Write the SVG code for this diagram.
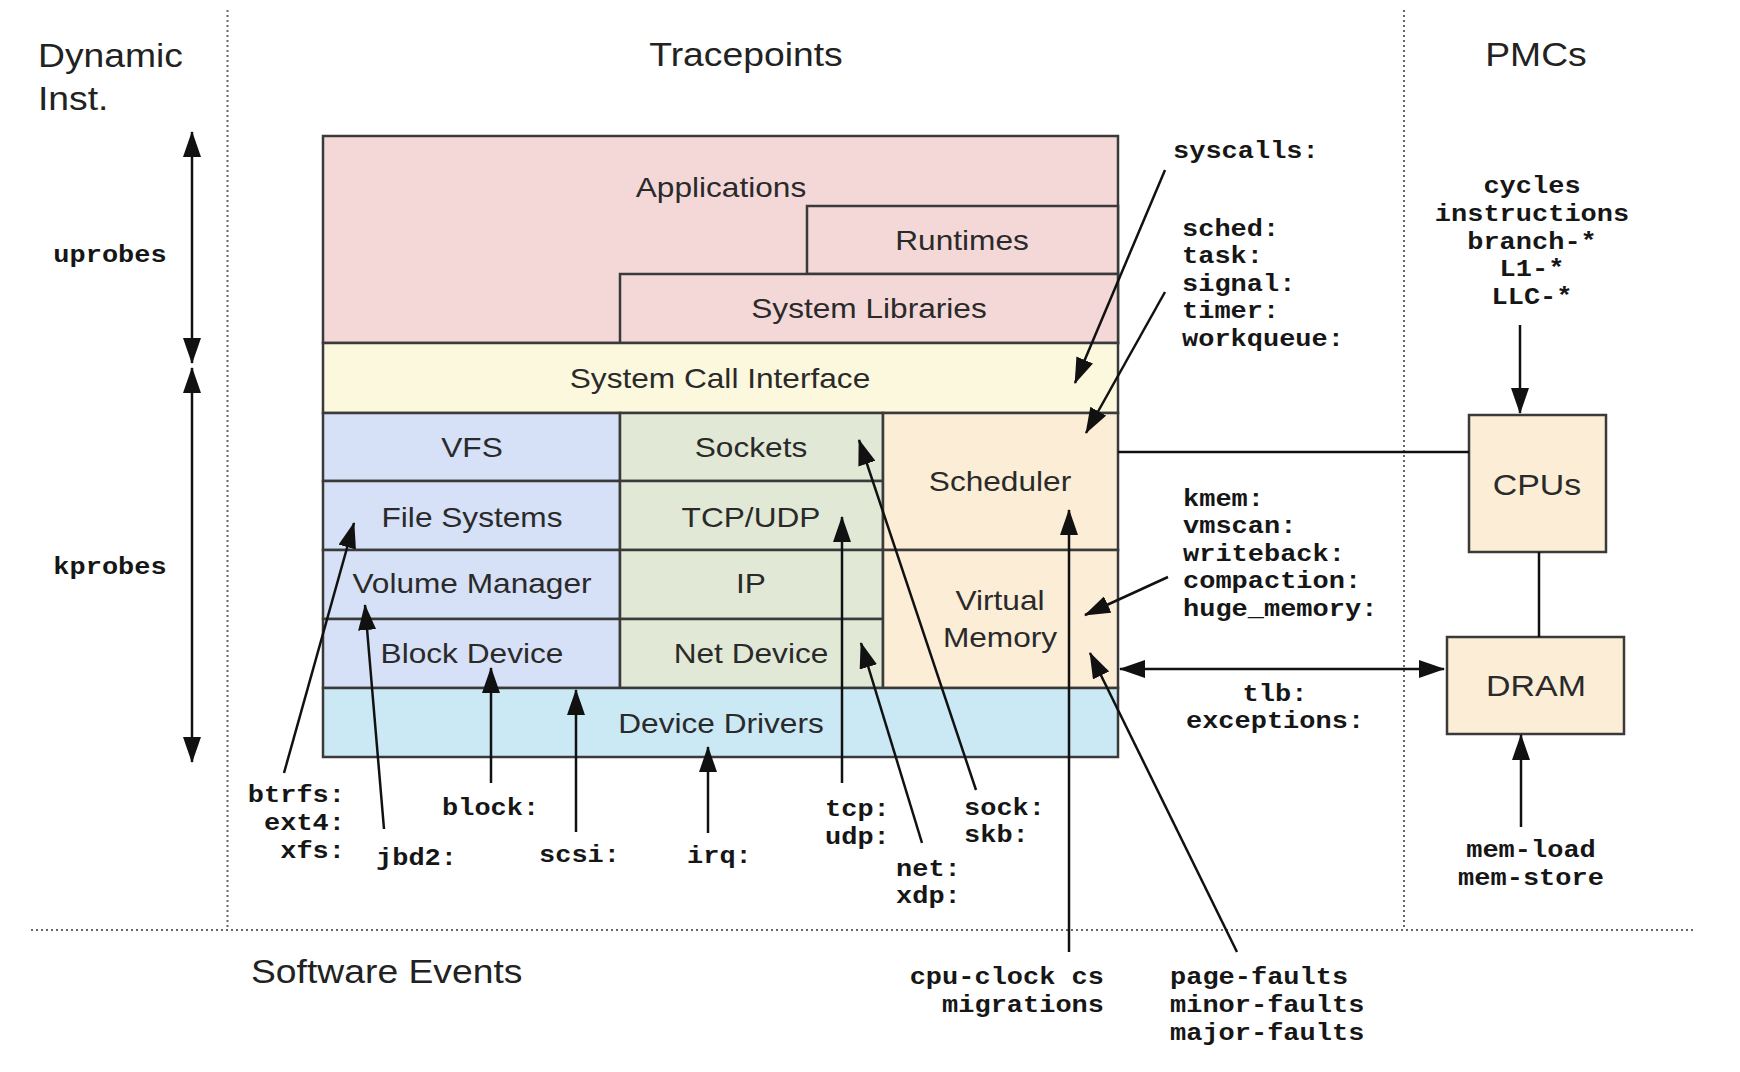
<svg xmlns="http://www.w3.org/2000/svg" width="1740" height="1072" viewBox="0 0 1740 1072">
<defs>
<marker id="ah" markerUnits="userSpaceOnUse" markerWidth="26" markerHeight="18" refX="25" refY="9" orient="auto-start-reverse" viewBox="0 0 26 18"><path d="M0,0 L26,9 L0,18 z" fill="#111"/></marker>
<style>
.t{font-family:"Liberation Sans",Arial,sans-serif;font-size:33px;fill:#222}
.l{font-family:"Liberation Sans",Arial,sans-serif;font-size:28px;fill:#2a2a2a;text-anchor:middle}
.b{font-family:"Liberation Sans",Arial,sans-serif;font-size:30px;fill:#2a2a2a;text-anchor:middle}
.m{font-family:"Liberation Mono","Courier New",monospace;font-size:24px;font-weight:bold;fill:#161616}
.mc{text-anchor:middle}
.me{text-anchor:end}
.box{stroke:#3a3a3a;stroke-width:2.5}
.pink{fill:#f4d8d8}.yel{fill:#fbf8de}.blu{fill:#d6e0f6}.grn{fill:#e1e9d6}.pch{fill:#fbedd6}.lbl{fill:#cbe8f5}
.dot{stroke:#666;stroke-width:2;stroke-dasharray:2 3;fill:none}
.c{stroke:#111;stroke-width:2.5;fill:none}
.a{marker-end:url(#ah)}
.aa{marker-start:url(#ah);marker-end:url(#ah)}
</style>
</defs>
<rect width="1740" height="1072" fill="#fff"/>
<g id="dividers">
<line class="dot" x1="227.5" y1="10" x2="227.5" y2="930"/>
<line class="dot" x1="1404" y1="10" x2="1404" y2="930"/>
<line class="dot" x1="31" y1="930" x2="1696" y2="930"/>
</g>
<g id="titles">
<text class="t" transform="translate(38 67) scale(1.13 1)"><tspan x="0">Dynamic</tspan><tspan x="0" dy="43">Inst.</tspan></text>
<text class="t" text-anchor="middle" transform="translate(746 66) scale(1.13 1)">Tracepoints</text>
<text class="t" text-anchor="middle" transform="translate(1536 66) scale(1.13 1)">PMCs</text>
<text class="t" transform="translate(251 983) scale(1.13 1)">Software Events</text>
</g>
<g id="applications"><rect class="box pink" x="323" y="136" width="795" height="207"/><text class="l" transform="translate(721 197) scale(1.13 1)">Applications</text></g>
<g id="runtimes"><rect class="box pink" x="807" y="206" width="311" height="68"/><text class="l" transform="translate(962 250) scale(1.13 1)">Runtimes</text></g>
<g id="system-libraries"><rect class="box pink" x="620" y="274" width="498" height="69"/><text class="l" transform="translate(869 318) scale(1.13 1)">System Libraries</text></g>
<g id="system-call-interface"><rect class="box yel" x="323" y="343" width="795" height="70"/><text class="l" transform="translate(720 388) scale(1.13 1)">System Call Interface</text></g>
<g id="vfs"><rect class="box blu" x="323" y="413" width="297" height="68"/><text class="l" transform="translate(472 457) scale(1.13 1)">VFS</text></g>
<g id="file-systems"><rect class="box blu" x="323" y="481" width="297" height="69"/><text class="l" transform="translate(472 527) scale(1.13 1)">File Systems</text></g>
<g id="volume-manager"><rect class="box blu" x="323" y="550" width="297" height="69"/><text class="l" transform="translate(472 593) scale(1.13 1)">Volume Manager</text></g>
<g id="block-device"><rect class="box blu" x="323" y="619" width="297" height="69"/><text class="l" transform="translate(472 663) scale(1.13 1)">Block Device</text></g>
<g id="sockets"><rect class="box grn" x="620" y="413" width="263" height="68"/><text class="l" transform="translate(751 457) scale(1.13 1)">Sockets</text></g>
<g id="tcp-udp"><rect class="box grn" x="620" y="481" width="263" height="69"/><text class="l" transform="translate(751 527) scale(1.13 1)">TCP/UDP</text></g>
<g id="ip"><rect class="box grn" x="620" y="550" width="263" height="69"/><text class="l" transform="translate(751 593) scale(1.13 1)">IP</text></g>
<g id="net-device"><rect class="box grn" x="620" y="619" width="263" height="69"/><text class="l" transform="translate(751 663) scale(1.13 1)">Net Device</text></g>
<g id="scheduler"><rect class="box pch" x="883" y="413" width="235" height="137"/><text class="l" transform="translate(1000 491) scale(1.13 1)">Scheduler</text></g>
<g id="virtual-memory"><rect class="box pch" x="883" y="550" width="235" height="138"/><text class="l" transform="translate(1000 610) scale(1.13 1)"><tspan x="0">Virtual</tspan><tspan x="0" dy="37">Memory</tspan></text></g>
<g id="device-drivers"><rect class="box lbl" x="323" y="688" width="795" height="69"/><text class="l" transform="translate(721 733) scale(1.13 1)">Device Drivers</text></g>
<g id="cpus"><rect class="box pch" x="1469" y="415" width="137" height="137"/><text class="b" transform="translate(1537 495) scale(1.13 1)">CPUs</text></g>
<g id="dram"><rect class="box pch" x="1447" y="637" width="177" height="97"/><text class="b" transform="translate(1536 696) scale(1.13 1)">DRAM</text></g>
<g id="labels">
<text class="m mc" transform="translate(110 262) scale(1.125 1)">uprobes</text>
<text class="m mc" transform="translate(110 574) scale(1.125 1)">kprobes</text>
<text class="m" transform="translate(1173 158) scale(1.125 1)">syscalls:</text>
<text class="m" transform="translate(1182 236) scale(1.125 1)"><tspan x="0">sched:</tspan><tspan x="0" dy="27.5">task:</tspan><tspan x="0" dy="27.5">signal:</tspan><tspan x="0" dy="27.5">timer:</tspan><tspan x="0" dy="27.5">workqueue:</tspan></text>
<text class="m mc" transform="translate(1532 193) scale(1.125 1)"><tspan x="0">cycles</tspan><tspan x="0" dy="27.8">instructions</tspan><tspan x="0" dy="27.8">branch-*</tspan><tspan x="0" dy="27.8">L1-*</tspan><tspan x="0" dy="27.8">LLC-*</tspan></text>
<text class="m" transform="translate(1183 506) scale(1.125 1)"><tspan x="0">kmem:</tspan><tspan x="0" dy="27.5">vmscan:</tspan><tspan x="0" dy="27.5">writeback:</tspan><tspan x="0" dy="27.5">compaction:</tspan><tspan x="0" dy="27.5">huge_memory:</tspan></text>
<text class="m mc" transform="translate(1275 701) scale(1.125 1)"><tspan x="0">tlb:</tspan><tspan x="0" dy="27.5">exceptions:</tspan></text>
<text class="m mc" transform="translate(1531 857) scale(1.125 1)"><tspan x="0">mem-load</tspan><tspan x="0" dy="28">mem-store</tspan></text>
<text class="m me" transform="translate(1104 984) scale(1.125 1)"><tspan x="0">cpu-clock cs</tspan><tspan x="0" dy="28">migrations</tspan></text>
<text class="m" transform="translate(1170 984) scale(1.125 1)"><tspan x="0">page-faults</tspan><tspan x="0" dy="28">minor-faults</tspan><tspan x="0" dy="28">major-faults</tspan></text>
<text class="m me" transform="translate(345 802) scale(1.125 1)"><tspan x="0">btrfs:</tspan><tspan x="0" dy="28">ext4:</tspan><tspan x="0" dy="28">xfs:</tspan></text>
<text class="m" transform="translate(376 865) scale(1.125 1)">jbd2:</text>
<text class="m" transform="translate(442 815) scale(1.125 1)">block:</text>
<text class="m" transform="translate(539 862) scale(1.125 1)">scsi:</text>
<text class="m" transform="translate(687 863) scale(1.125 1)">irq:</text>
<text class="m" transform="translate(825 816) scale(1.125 1)"><tspan x="0">tcp:</tspan><tspan x="0" dy="28">udp:</tspan></text>
<text class="m" transform="translate(896 876) scale(1.125 1)"><tspan x="0">net:</tspan><tspan x="0" dy="27.5">xdp:</tspan></text>
<text class="m" transform="translate(964 815) scale(1.125 1)"><tspan x="0">sock:</tspan><tspan x="0" dy="27.5">skb:</tspan></text>
</g>
<g id="connectors">
<line class="c aa" x1="192" y1="132" x2="192" y2="363"/>
<line class="c aa" x1="192" y1="368" x2="192" y2="762"/>
<line class="c a" x1="1165" y1="170" x2="1075" y2="383"/>
<line class="c a" x1="1165" y1="292" x2="1086" y2="433"/>
<line class="c a" x1="1520" y1="325" x2="1520" y2="413"/>
<line class="c" x1="1118" y1="452" x2="1469" y2="452"/>
<line class="c" x1="1539" y1="552" x2="1539" y2="637"/>
<line class="c a" x1="1168" y1="577" x2="1085" y2="615"/>
<line class="c aa" x1="1120" y1="669" x2="1444" y2="669"/>
<line class="c a" x1="1521" y1="827" x2="1521" y2="735"/>
<line class="c a" x1="1069" y1="952" x2="1069" y2="510"/>
<line class="c a" x1="1237" y1="952" x2="1090" y2="653"/>
<line class="c a" x1="284" y1="773" x2="354" y2="523"/>
<line class="c a" x1="384" y1="829" x2="365" y2="605"/>
<line class="c a" x1="491" y1="783" x2="491" y2="668"/>
<line class="c a" x1="576" y1="832" x2="576" y2="690"/>
<line class="c a" x1="708" y1="833" x2="708" y2="747"/>
<line class="c a" x1="842" y1="783" x2="842" y2="517"/>
<line class="c a" x1="922" y1="843" x2="861" y2="643"/>
<line class="c a" x1="976" y1="790" x2="859" y2="440"/>
</g>
</svg>
